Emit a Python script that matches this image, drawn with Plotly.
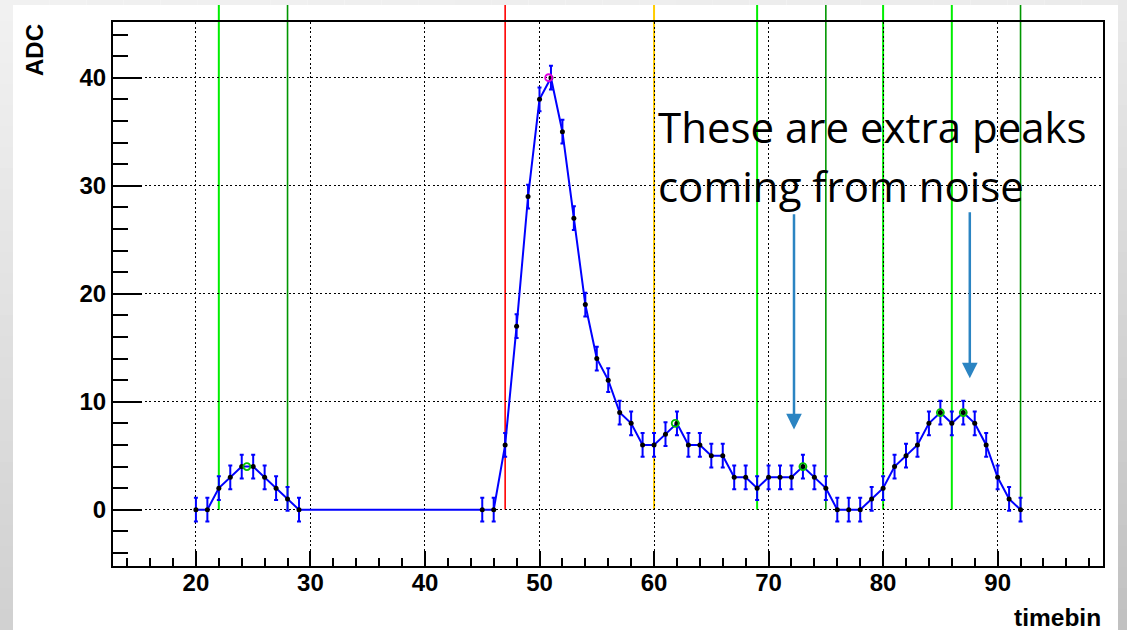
import plotly.graph_objects as go

# ---------------- data ----------------
timebin = [20, 21, 22, 23, 24, 25, 26, 27, 28, 29,
           45, 46, 47, 48, 49, 50, 51, 52, 53, 54,
           55, 56, 57, 58, 59, 60, 61, 62, 63, 64,
           65, 66, 67, 68, 69, 70, 71, 72, 73, 74,
           75, 76, 77, 78, 79, 80, 81, 82, 83, 84,
           85, 86, 87, 88, 89, 90, 91, 92]
adc = [0, 0, 2, 3, 4, 4, 3, 2, 1, 0,
       0, 0, 6, 17, 29, 38, 40, 35, 27, 19,
       14, 12, 9, 8, 6, 6, 7, 8, 6, 6,
       5, 5, 3, 3, 2, 3, 3, 3, 4, 3,
       2, 0, 0, 0, 1, 2, 4, 5, 6, 8,
       9, 8, 9, 8, 6, 3, 1, 0]
adc_err = [1.1, 1.1, 1.1, 1.1, 1.1, 1.1, 1.1, 1.1, 1.1, 1.1,
           1.1, 1.1, 1.1, 1.1, 1.1, 1.1, 1.1, 1.1, 1.1, 1.1,
           1.1, 1.1, 1.1, 1.1, 1.1, 1.1, 1.1, 1.1, 1.1, 1.1,
           1.1, 1.1, 1.1, 1.1, 1.1, 1.1, 1.1, 1.1, 1.1, 1.1,
           1.1, 1.1, 1.1, 1.1, 1.1, 1.1, 1.1, 1.1, 1.1, 1.1,
           1.1, 1.1, 1.1, 1.1, 1.1, 1.1, 1.1, 1.1]

main_peak_x = [50.8]
main_peak_y = [40]
noise_peak_x = [24.45, 61.85, 73.0, 85.0, 87.0]
noise_peak_y = [4, 8, 4, 9, 9]

start_lines = [22, 69, 80, 86]      # bright green
end_lines = [28, 75, 92]            # dark green
main_start_line = [47]              # red
main_end_line = [60]                # orange

arrow_x = [72.22, 87.57]
arrow_tail_y = [27.5, 27.69]
arrow_tip_y = [7.44, 12.17]

annot_lines = ["These are extra peaks", "coming from noise"]

x_range = [12.76, 99.2]
y_range = [-5.21, 45.16]
x_ticks = [20, 30, 40, 50, 60, 70, 80, 90]
y_ticks = [0, 10, 20, 30, 40]

# ---------------- geometry ----------------
W, H = 1127, 630
L, R, T, B = 113, 1127 - 1103, 22, 630 - 566
PW, PH = W - L - R, H - T - B


def px_x(px):
    return (px - L) / PW


def px_y(py):
    return (H - B - py) / PH


BLUE = "#0000ff"
FONT = "Liberation Sans, Arial, sans-serif"

fig = go.Figure()

fig.add_trace(go.Scatter(
    x=timebin, y=adc, mode="lines+markers",
    line=dict(color=BLUE, width=2),
    marker=dict(color="black", size=5),
    error_y=dict(type="data", array=adc_err, visible=True,
                 color=BLUE, thickness=2, width=2),
    showlegend=False, hoverinfo="skip"))

fig.add_trace(go.Scatter(
    x=noise_peak_x, y=noise_peak_y, mode="markers",
    marker=dict(symbol="circle-open", size=7, color="#00c000",
                line=dict(width=1.8, color="#00c000")),
    showlegend=False, hoverinfo="skip"))
fig.add_trace(go.Scatter(
    x=main_peak_x, y=main_peak_y, mode="markers",
    marker=dict(symbol="circle-open", size=7, color="#e000e0",
                line=dict(width=1.8, color="#e000e0")),
    showlegend=False, hoverinfo="skip"))

# vertical window lines, from ADC = 0 up past the frame
y0_frac = (0 - y_range[0]) / (y_range[1] - y_range[0])
y_top = px_y(0)
shapes = []
for xs, col, w in [(start_lines, "#00ee00", 2),
                   (end_lines, "#009600", 1.6),
                   (main_start_line, "#ff0000", 1.6),
                   (main_end_line, "#ffcc00", 2)]:
    for xv in xs:
        shapes.append(dict(type="line", xref="x", yref="paper",
                           x0=xv, x1=xv, y0=y0_frac, y1=y_top,
                           line=dict(color=col, width=w), layer="below"))

# grey slide border (gradient strips)
def grey(v):
    v = int(round(v))
    return f"rgb({v},{v},{v})"

N = 30
for i in range(N):
    ya = i * H / N
    yb = (i + 1) * H / N
    t = (i + 0.5) / N
    shapes.append(dict(type="rect", xref="paper", yref="paper",
                       x0=px_x(0), x1=px_x(13), y0=px_y(yb), y1=px_y(ya),
                       fillcolor=grey(242 - 34 * t), line=dict(width=0),
                       layer="above"))
    shapes.append(dict(type="rect", xref="paper", yref="paper",
                       x0=px_x(1118), x1=px_x(W), y0=px_y(yb), y1=px_y(ya),
                       fillcolor=grey(234 - 42 * t), line=dict(width=0),
                       layer="above"))
for i in range(N):
    xa = 13 + i * (1118 - 13) / N
    xb = 13 + (i + 1) * (1118 - 13) / N
    t = (i + 0.5) / N
    shapes.append(dict(type="rect", xref="paper", yref="paper",
                       x0=px_x(xa), x1=px_x(xb), y0=px_y(5), y1=px_y(0),
                       fillcolor=grey(241 - 6 * t), line=dict(width=0),
                       layer="above"))

annotations = []
for xa, ty, hy in zip(arrow_x, arrow_tail_y, arrow_tip_y):
    annotations.append(dict(x=xa, y=hy, ax=xa, ay=ty, xref="x", yref="y",
                            axref="x", ayref="y", text="", showarrow=True,
                            arrowhead=2, arrowsize=1.25, arrowwidth=2.5,
                            arrowcolor="#2b84c2", standoff=0))

TXT_FONT = dict(family="Open Sans", size=42, color="black")
annotations.append(dict(x=px_x(656), y=px_y(127), xref="paper", yref="paper",
                        text=annot_lines[0], showarrow=False,
                        xanchor="left", yanchor="middle", font=TXT_FONT))
annotations.append(dict(x=px_x(656), y=px_y(185), xref="paper", yref="paper",
                        text=annot_lines[1], showarrow=False,
                        xanchor="left", yanchor="middle", font=TXT_FONT))

annotations.append(dict(x=px_x(34), y=1, xref="paper", yref="paper",
                        text="ADC", textangle=-90, showarrow=False,
                        xanchor="center", yanchor="top",
                        font=dict(family=FONT, size=24, color="black", weight="bold")))
annotations.append(dict(x=1, y=px_y(617), xref="paper", yref="paper",
                        text="timebin", showarrow=False,
                        xanchor="right", yanchor="middle",
                        font=dict(family=FONT, size=24.5, color="black", weight="bold")))

axis_common = dict(
    showline=True, linecolor="black", linewidth=2, mirror=True,
    ticks="inside", tickcolor="black", tickwidth=2,
    showgrid=True, gridcolor="black", gridwidth=1.2, griddash="2px,2.5px",
    zeroline=False,
    tickfont=dict(family=FONT, size=24, color="black", weight="bold"),
)

fig.update_xaxes(range=x_range, tickmode="array", tickvals=x_ticks,
                 ticklen=15, ticklabelstandoff=-6,
                 minor=dict(dtick=2, tick0=0, ticks="inside", ticklen=8,
                            tickwidth=1.5, tickcolor="black", showgrid=False),
                 **axis_common)
fig.update_yaxes(range=y_range, tickmode="array", tickvals=y_ticks,
                 ticklen=29,
                 minor=dict(dtick=2, tick0=0, ticks="inside", ticklen=15,
                            tickwidth=1.5, tickcolor="black", showgrid=False),
                 **axis_common)

fig.update_layout(
    width=W, height=H,
    margin=dict(l=L, r=R, t=T, b=B, pad=0),
    paper_bgcolor="white", plot_bgcolor="rgba(0,0,0,0)",
    shapes=shapes, annotations=annotations,
)

fig.write_html("out.html")
